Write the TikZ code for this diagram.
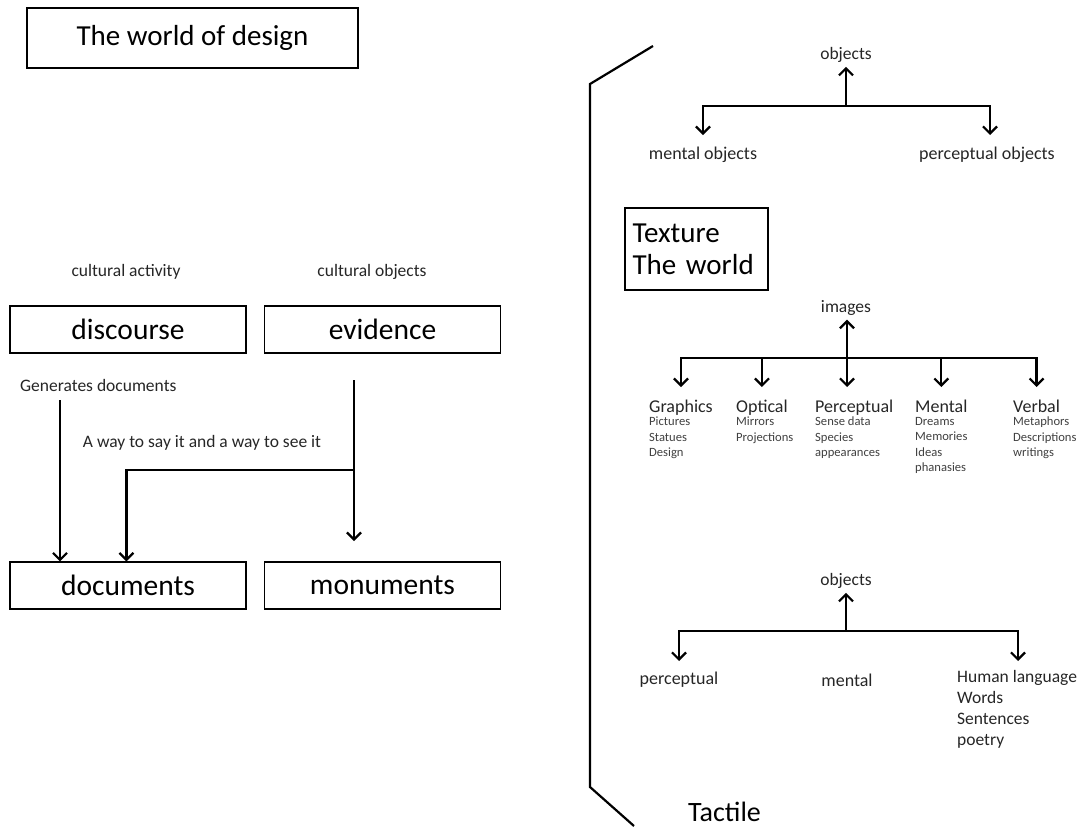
\documentclass[tikz,border=0pt]{standalone}
\usepackage{fontspec}
\setmainfont{Carlito}
\usetikzlibrary{arrows.meta,calc}
\tikzstyle{plainbox}=[draw, line width=1.2pt, minimum width=236pt, minimum height=47pt, font=\fontsize{29.5}{34}\selectfont]
\tikzstyle{arr}=[line width=2.2pt, -{Straight Barb[length=7pt,width=14pt]}]
\tikzstyle{stem}=[line width=2.2pt]
\tikzstyle{small}=[font=\fontsize{17.5}{21}\selectfont, inner sep=1pt, text=black!85]
\tikzstyle{mid}=[font=\fontsize{18}{21}\selectfont, inner sep=1pt, align=left, text=black!85]
\tikzstyle{tiny}=[font=\fontsize{12.6}{15.5}\selectfont, inner sep=0pt, align=left, text=black!75]

\begin{document}
\begin{tikzpicture}[x=1pt,y=-1pt]
	\useasboundingbox (0,0) rectangle (1079,827);
	% left half
	\node[draw, line width=1.2pt, minimum width=331pt, minimum height=60pt, font=\fontsize{29}{34}\selectfont] (title) at (192.5,38) {The world of design};
	\node[small] (activity) at (126,272) {cultural activity};
	\node[small] (culobj) at (372,272) {cultural objects};
	\node[plainbox] (discourse) at (128,329.5) {discourse};
	\node[plainbox] (evidence) at (382.5,329.5) {evidence};
	\node[plainbox] (documents) at (128,585.5) {documents};
	\node[plainbox] (monuments) at (382.5,585.5) {monuments};
	\node[small, anchor=west] (gendoc) at (19,385) {Generates documents};
	\node[small] (sayit) at (202,443) {A way to say it and a way to see it};
	\coordinate (gd) at (60,400);
	\coordinate (ev) at (354,380);
	\coordinate (evend) at (354,541);
	\coordinate (split) at (354,470);
	\draw[arr] (gd) -- (gd |- documents.north);
	\draw[arr] (ev) -- (evend);
	\draw[arr] (split) -| ($(documents.north west)+(117,0)$);
	% bracket
	\draw[line width=2.2pt] (653,46) -- (590,84) -- (590,787) -- (634,826);
	% objects tree
	\node[small] (obj) at (846,55) {objects};
	\node[mid] (mobj) at (703,155) {mental objects};
	\node[mid] (pobj) at (987,155) {perceptual objects};
	\coordinate (oh) at (846,106);
	\draw[arr] (oh) -- ($(obj.south)+(0,3)$);
	\draw[arr, shorten >=11pt] (oh) -| (mobj.north);
	\draw[arr, shorten >=11pt] (oh) -| ($(pobj.north)+(3,0)$);
	% texture box
	\node[draw, line width=1.2pt, minimum width=143pt, minimum height=82pt, text width=128pt, align=left, font=\fontsize{29}{32}\selectfont] (texture) at (696.5,249) {Texture\\The world};
	% images tree
	\node[small] (img) at (846,308) {images};
	\node[mid, anchor=base west] (gra) at (648,412) {Graphics};
	\node[mid, anchor=base west] (opt) at (735,412) {Optical};
	\node[mid, anchor=base west] (per) at (814,412) {Perceptual};
	\node[mid, anchor=base west] (men) at (914,412) {Mental};
	\node[mid, anchor=base west] (verb) at (1012,412) {Verbal};
	\node[tiny, anchor=north west] (grasub) at (649,417) {Pictures\\Statues\\Design};
	\node[tiny, anchor=north west] (optsub) at (736,417) {Mirrors\\Projections};
	\node[tiny, anchor=north west] (persub) at (815,417) {Sense data\\Species\\appearances};
	\node[tiny, anchor=north west] (mensub) at (915,417) {Dreams\\Memories\\Ideas\\phanasies};
	\node[tiny, anchor=north west] (verbsub) at (1013,417) {Metaphors\\Descriptions\\writings};
	\coordinate (ih) at (847,358);
	\draw[stem] (gra.north |- ih) -- (verb.north |- ih);
	\draw[arr, {Straight Barb[length=7pt,width=14pt]}-{Straight Barb[length=7pt,width=14pt]}] ($(img.south)+(1,3)$) -- (847,387);
	\draw[arr] (ih) -| (gra.north |- 0,387);
	\draw[arr] (ih) -| (opt.north |- 0,387);
	\draw[arr] (ih) -| (men.north |- 0,387);
	\draw[arr] (ih) -| (verb.north |- 0,387);
	% lower objects tree
	\node[small] (obj2) at (846,581) {objects};
	\node[mid] (perc) at (679,680) {perceptual};
	\node[mid] (ment) at (847,680) {mental};
	\node[mid, font=\fontsize{17.5}{21}\selectfont, anchor=north west] (human) at (956,669) {Human language\\Words\\Sentences\\poetry};
	\coordinate (oh2) at (846,631);
	\draw[arr] (oh2) -- ($(obj2.south)+(0,3)$);
	\draw[arr] (oh2) -| (perc.north |- 0,661);
	\draw[arr] (oh2) -| (1018,661);
	\node[font=\fontsize{28}{32}\selectfont, anchor=base west, inner sep=0pt] (tactile) at (688,821) {Tactile};
\end{tikzpicture}
\end{document}
